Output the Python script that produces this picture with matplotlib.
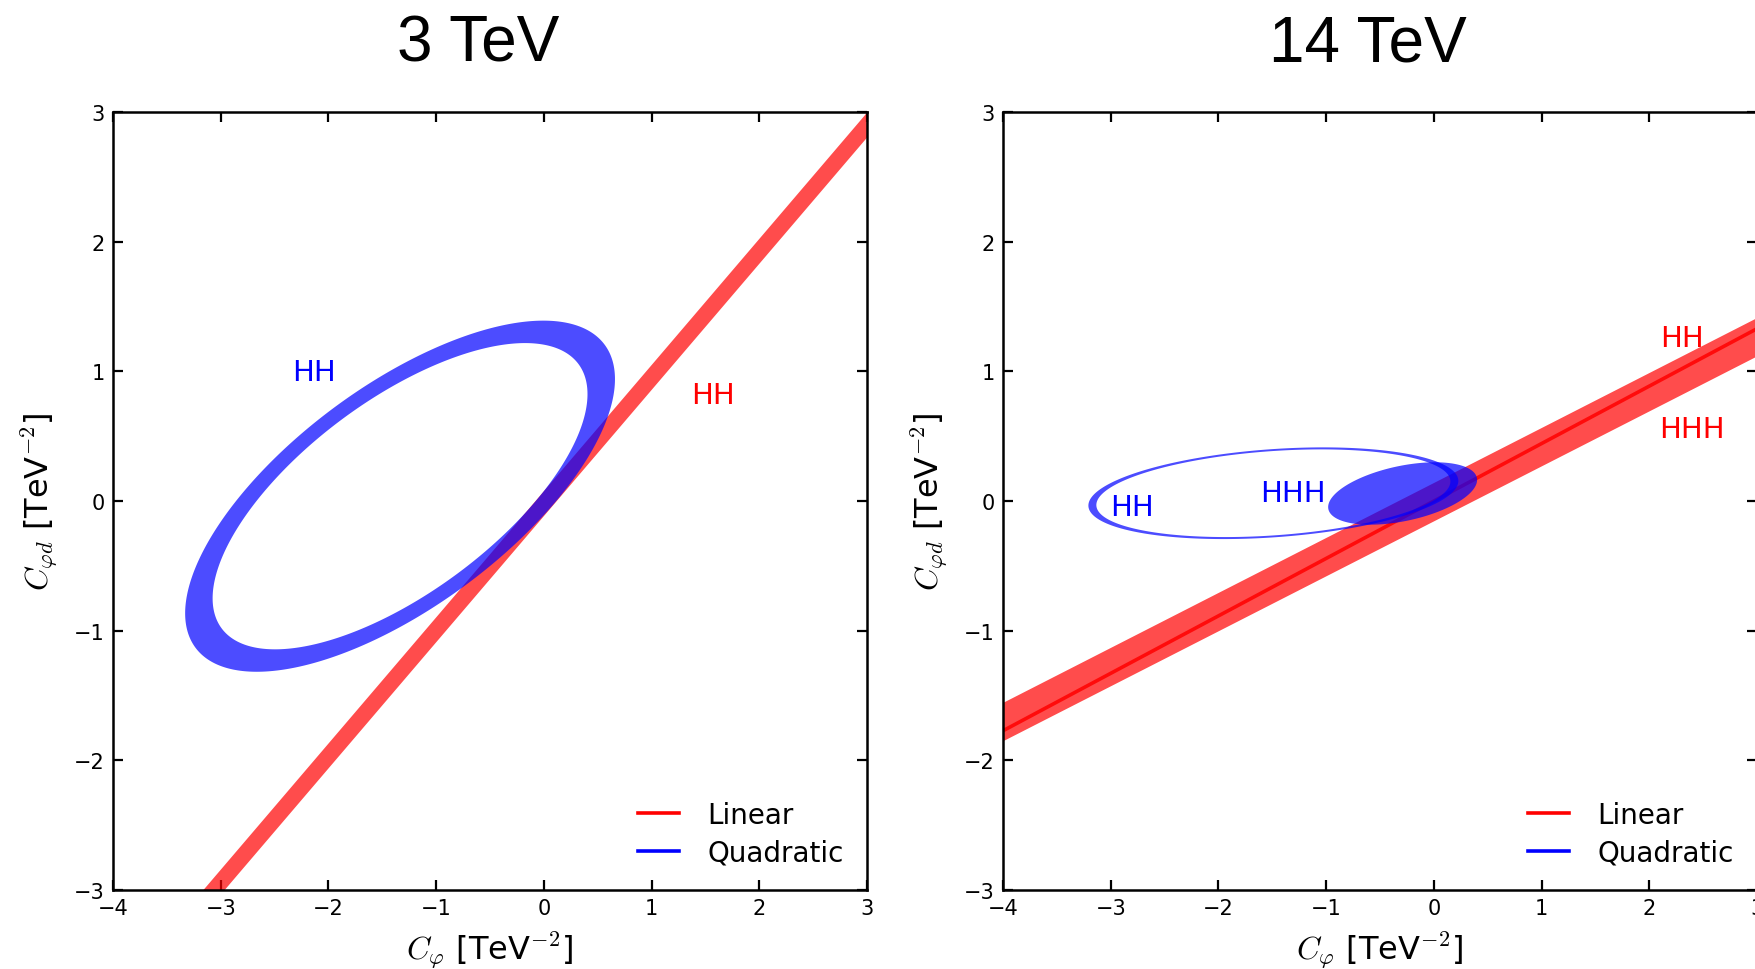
import numpy as np
import matplotlib

matplotlib.use("Agg")
import matplotlib.pyplot as plt
from matplotlib.path import Path
from matplotlib.patches import PathPatch
from matplotlib.lines import Line2D

# ---- 3 TeV ----
# linear fit: band between two parallel lines  y = slope*x + b
LIN3_SLOPE = 0.973
LIN3_BOUNDS = (-0.117, 0.075)
# quadratic fit (HH): ring between two concentric ellipses
QUAD3_HH_CENTER = (-1.335, 0.037)
QUAD3_HH_OUTER = (2.237, 0.900)
QUAD3_HH_INNER = (1.951, 0.785)
QUAD3_HH_ANGLE = 29.6

# ---- 14 TeV ----
LIN14_SLOPE = 0.424
LIN14_BOUNDS = (-0.152, 0.144)
LIN14_CENTRAL_SLOPE = 0.443
QUAD14_HH_CENTER = (-1.49, 0.06)
QUAD14_HH_OUTER = (1.72, 0.34)
QUAD14_HH_INNER = (1.646, 0.325)
QUAD14_HH_ANGLE = 3.3
QUAD14_HHH_CENTER = (-0.29, 0.058)
QUAD14_HHH_AXES = (0.70, 0.214)
QUAD14_HHH_ANGLE = 9.5

TITLES = ["3 TeV", "14 TeV"]
X_TICKS = [-4, -3, -2, -1, 0, 1, 2, 3]
Y_TICKS = [-3, -2, -1, 0, 1, 2, 3]

# (text, x, y, colour) -- y is the text baseline
LABELS_3 = [("HH", -2.137, 0.933, "blue"), ("HH", 1.566, 0.756, "red")]
LABELS_14 = [
    ("HH", 2.300, 1.193, "red"),
    ("HHH", 2.397, 0.491, "red"),
    ("HH", -2.805, -0.108, "blue"),
    ("HHH", -1.305, -0.002, "blue"),
]

RED_FILL = dict(color="red", alpha=0.7, lw=0)
BLUE_FILL = dict(facecolor="blue", alpha=0.7, lw=0)

plt.rcParams["mathtext.fontset"] = "cm"
plt.rcParams["font.family"] = "DejaVu Sans"


def ellipse_xy(center, axes, angle_deg, n=500):
    t = np.linspace(0, 2 * np.pi, n)
    th = np.deg2rad(angle_deg)
    x0 = axes[0] * np.cos(t)
    y0 = axes[1] * np.sin(t)
    x = center[0] + x0 * np.cos(th) - y0 * np.sin(th)
    y = center[1] + x0 * np.sin(th) + y0 * np.cos(th)
    return np.column_stack([x, y])


def ring_patch(center, outer, inner, angle, **kw):
    out = ellipse_xy(center, outer, angle)
    inn = ellipse_xy(center, inner, angle)[::-1]
    path = Path.make_compound_path(Path(out, closed=True), Path(inn, closed=True))
    return PathPatch(path, **kw)


def fill_patch(center, axes, angle, **kw):
    return PathPatch(Path(ellipse_xy(center, axes, angle), closed=True), **kw)


def style_axes(ax, title):
    ax.set_xlim(-4, 3)
    ax.set_ylim(-3, 3)
    ax.set_xticks(X_TICKS)
    ax.set_yticks(Y_TICKS)
    ax.tick_params(direction="in", top=True, right=True, length=7, width=1.6,
                   labelsize=15, pad=6)
    for sp in ax.spines.values():
        sp.set_linewidth(1.8)
    ax.set_xlabel(r"$C_{\varphi}$ [TeV$^{-2}$]", fontsize=23, labelpad=8)
    ax.set_ylabel(r"$C_{\varphi d}$ [TeV$^{-2}$]", fontsize=23, labelpad=10)
    ax.text(0.484, 1.066, title, transform=ax.transAxes, ha="center",
            va="baseline", fontsize=46, family="Liberation Sans")
    handles = [Line2D([], [], color="red", lw=2.6), Line2D([], [], color="blue", lw=2.6)]
    ax.legend(handles, ["Linear", "Quadratic"], loc="lower right", frameon=False,
              fontsize=20, handlelength=1.5, handletextpad=1.0, labelspacing=0.35,
              borderaxespad=0.45)


fig = plt.figure(figsize=(17.55, 9.70), dpi=100)
ax1 = fig.add_axes([113 / 1755, 79 / 970, 754 / 1755, 778 / 970])
ax2 = fig.add_axes([1003 / 1755, 79 / 970, 754 / 1755, 778 / 970])

xs = np.linspace(-5, 4, 50)

# 3 TeV
ax1.fill_between(xs, LIN3_SLOPE * xs + LIN3_BOUNDS[0], LIN3_SLOPE * xs + LIN3_BOUNDS[1],
                 zorder=2, **RED_FILL)
ax1.add_patch(ring_patch(QUAD3_HH_CENTER, QUAD3_HH_OUTER, QUAD3_HH_INNER,
                         QUAD3_HH_ANGLE, zorder=3, **BLUE_FILL))
for txt, x, y, c in LABELS_3:
    ax1.text(x, y, txt, color=c, fontsize=21, ha="center", va="baseline")
style_axes(ax1, TITLES[0])

# 14 TeV
ax2.fill_between(xs, LIN14_SLOPE * xs + LIN14_BOUNDS[0], LIN14_SLOPE * xs + LIN14_BOUNDS[1],
                 zorder=2, **RED_FILL)
ax2.plot(xs, LIN14_CENTRAL_SLOPE * xs, color="red", lw=2.6, alpha=0.85, zorder=2.5)
ax2.add_patch(ring_patch(QUAD14_HH_CENTER, QUAD14_HH_OUTER, QUAD14_HH_INNER,
                         QUAD14_HH_ANGLE, zorder=3, **BLUE_FILL))
ax2.add_patch(fill_patch(QUAD14_HHH_CENTER, QUAD14_HHH_AXES, QUAD14_HHH_ANGLE,
                         zorder=3, **BLUE_FILL))
for txt, x, y, c in LABELS_14:
    ax2.text(x, y, txt, color=c, fontsize=21, ha="center", va="baseline")
style_axes(ax2, TITLES[1])

fig.savefig("out.png", dpi=100)
